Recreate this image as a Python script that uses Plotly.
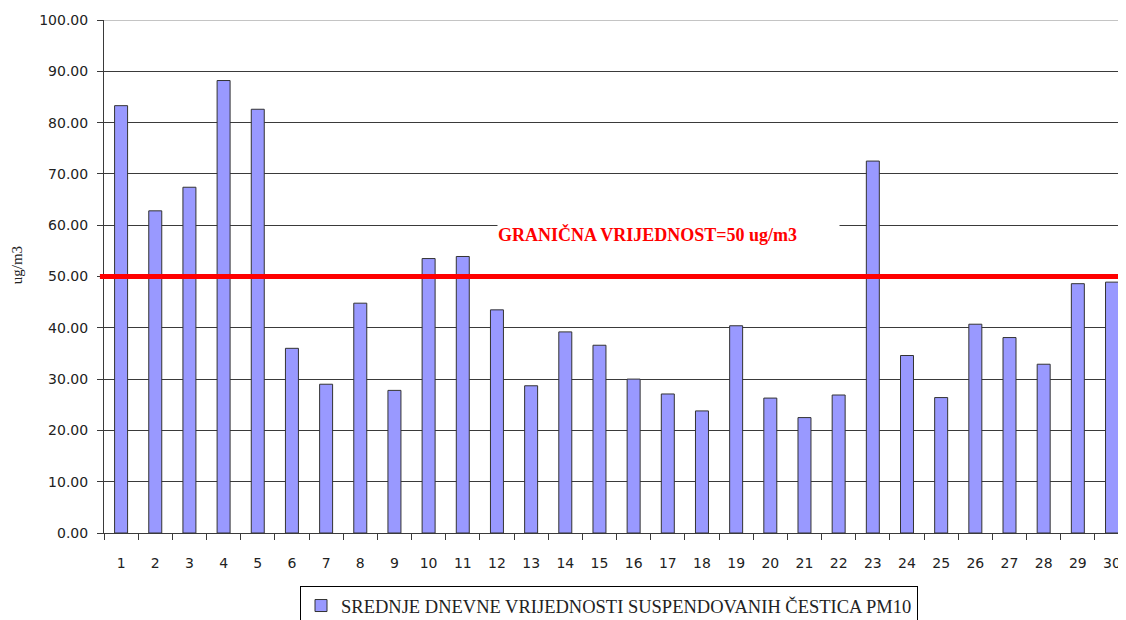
import plotly.graph_objects as go

days = list(range(1, 31))
pm10 = [83.3, 62.8, 67.4, 88.2, 82.6, 36.0, 29.0, 44.8, 27.8, 53.5,
        53.9, 43.5, 28.7, 39.2, 36.6, 30.0, 27.1, 23.8, 40.4, 26.3,
        22.5, 26.9, 72.5, 34.6, 26.4, 40.7, 38.1, 32.9, 48.6, 48.9]
y_ticks = [0, 10, 20, 30, 40, 50, 60, 70, 80, 90, 100]
limit_value = 50
series_name = "SREDNJE DNEVNE VRIJEDNOSTI SUSPENDOVANIH ČESTICA PM10"
limit_label = "GRANIČNA VRIJEDNOST=50 ug/m3"
y_title = "ug/m3"

# page has an 8px body margin, so the figure is offset by (8, 8)
OFF = 8
W, H = 1126 - OFF, 620 - OFF
ml, mr, mt, mb = 104 - OFF, 0, 20 - OFF, 620 - 533
pw = W - ml - mr
cat_px = 34.17
x_max = 0.5 + pw / cat_px

fig = go.Figure()
fig.add_trace(go.Bar(
    x=days, y=pm10, name=series_name,
    marker=dict(color="#9999FF", line=dict(color="#333333", width=1)),
    width=0.38, showlegend=True,
))

grid_col = "#3a3a3a"
fig.update_layout(
    width=W, height=H, autosize=False,
    margin=dict(l=ml, r=mr, t=mt, b=mb),
    plot_bgcolor="white", paper_bgcolor="white",
    showlegend=True,
    legend=dict(
        orientation="h", xref="paper", yref="container",
        x=(300 - 104) / pw, xanchor="left",
        y=1 - (586 - OFF) / H, yanchor="top",
        bordercolor="black", borderwidth=1, bgcolor="white",
        font=dict(family="Liberation Serif", size=18.5, color="#222222"),
    ),
    xaxis=dict(
        range=[0.5, x_max], tickmode="array", tickvals=days,
        ticktext=[str(d) for d in days],
        ticks="", showgrid=False, zeroline=False,
        showline=True, linecolor=grid_col, linewidth=1,
        tickfont=dict(family="DejaVu Sans", size=14, color="#222222"),
        ticklabelstandoff=17,
        minor=dict(tick0=0.5, dtick=1, ticks="outside", ticklen=6,
                   tickcolor=grid_col, tickwidth=1, showgrid=False),
    ),
    yaxis=dict(
        range=[0, 100], tickmode="array", tickvals=y_ticks,
        tickformat=".2f", ticks="outside", ticklen=6, tickcolor=grid_col,
        showgrid=True, gridcolor=grid_col, gridwidth=1, zeroline=False,
        showline=True, linecolor=grid_col, linewidth=1,
        ticklabelstandoff=6,
        tickfont=dict(family="DejaVu Sans", size=14, color="#222222"),
    ),
    bargap=0.62,
)

# lighter top border line at 100
fig.add_shape(type="line", xref="paper", yref="y", x0=0, x1=1, y0=100, y1=100,
              line=dict(color="#b0b0b0", width=1.5), layer="above")

# limit line
fig.add_shape(type="line", xref="paper", yref="y", x0=-0.004, x1=1,
              y0=limit_value, y1=limit_value,
              line=dict(color="#FF0000", width=5), layer="above")

fig.add_annotation(
    text="<b>" + limit_label + "</b>", xref="paper", yref="y",
    x=(497 - 104) / pw, xanchor="left", y=58.1, yanchor="middle",
    showarrow=False, bgcolor="white", width=341, align="left", borderpad=0,
    font=dict(family="Liberation Serif", size=18, color="#FF0000"),
)

fig.add_annotation(
    text=y_title, xref="paper", yref="y",
    x=(17 - 104) / pw, xanchor="center", y=52.2, yanchor="middle",
    textangle=-90, showarrow=False,
    font=dict(family="Liberation Serif", size=15, color="#222222"),
)

fig.write_html("out.html")
